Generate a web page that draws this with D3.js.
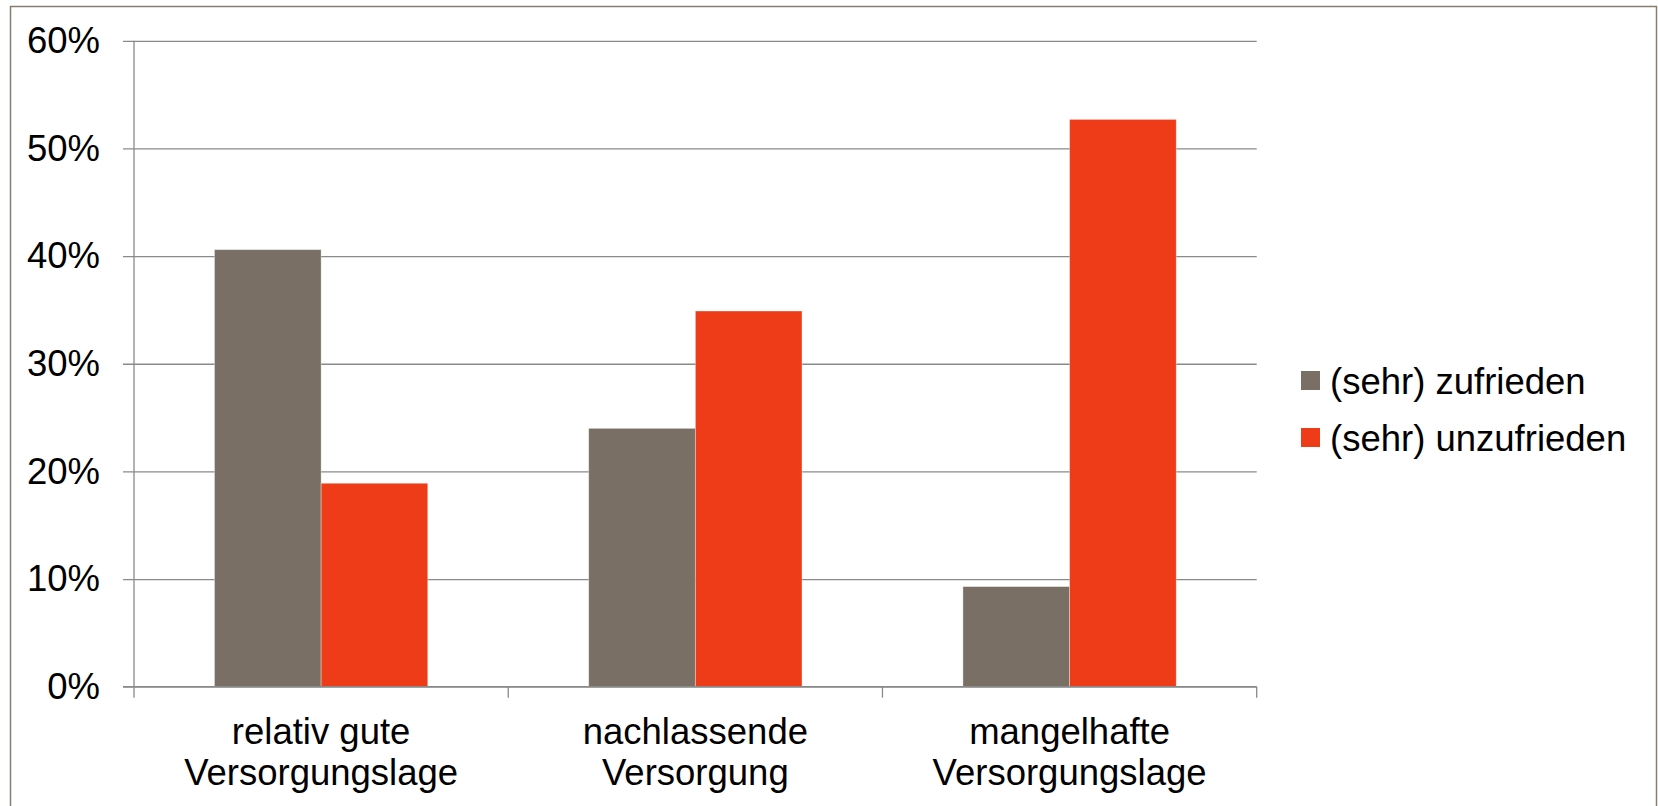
<!DOCTYPE html>
<html>
<head>
<meta charset="utf-8">
<script src="https://cdn.jsdelivr.net/npm/d3@7"></script>
<style>
  html, body { margin: 0; padding: 0; background: #fff; }
  svg { display: block; font-family: "Liberation Sans", Arial, sans-serif; }
</style>
</head>
<body>
<svg id="chart" width="1658" height="806"></svg>
<script>
// Survey shares per supply situation
const categories = [
  ["relativ gute", "Versorgungslage"],
  ["nachlassende", "Versorgung"],
  ["mangelhafte", "Versorgungslage"]
];
const seriesNames = ["(sehr) zufrieden", "(sehr) unzufrieden"];
const zufrieden = [40.6, 24.0, 9.3];
const unzufrieden = [18.9, 34.9, 52.7];
const yTicks = [0, 10, 20, 30, 40, 50, 60];
const colors = ["#796f64", "#ee3c18"];

const svg = d3.select("#chart");
const W = 1658, H = 806;
const plot = { left: 134, right: 1256.7, top: 40.8, bottom: 686.7 };
const fontSize = 36.5;
const gridColor = "#8a8a8a";

// frame around the chart area
svg.append("rect")
  .attr("x", 10.5).attr("y", 6.5)
  .attr("width", 1646).attr("height", 820)
  .attr("fill", "none").attr("stroke", "#867c72").attr("stroke-width", 1.5);

const catKeys = categories.map(c => c.join(" "));
const x0 = d3.scaleBand()
  .domain(catKeys)
  .range([plot.left, plot.right])
  .paddingInner(0.43)
  .paddingOuter(0.215);
const x1 = d3.scaleBand()
  .domain(seriesNames)
  .range([0, x0.bandwidth()]);
const y = d3.scaleLinear().domain([0, 60]).range([plot.bottom, plot.top]);

// horizontal gridlines with left tick marks and labels
const yAxis = d3.axisLeft(y)
  .tickValues(yTicks)
  .tickSize(plot.right - plot.left + 11)
  .tickPadding(23)
  .tickFormat(d => d + "%");
const gy = svg.append("g")
  .attr("transform", `translate(${plot.right},0)`)
  .call(yAxis);
gy.select(".domain").remove();
gy.selectAll(".tick line").attr("stroke", gridColor).attr("stroke-width", 1.3);
gy.selectAll(".tick text")
  .attr("fill", "#000")
  .attr("font-size", fontSize)
  .attr("font-family", "\"Liberation Sans\", Arial, sans-serif");

// vertical axis line
svg.append("line")
  .attr("x1", plot.left).attr("x2", plot.left)
  .attr("y1", plot.top).attr("y2", plot.bottom + 11)
  .attr("stroke", gridColor).attr("stroke-width", 1.3);

// category boundary ticks below the baseline
const step = x0.step();
const boundaries = d3.range(categories.length + 1).map(i => plot.left + i * step);
svg.append("g").selectAll("line")
  .data(boundaries.slice(1))
  .join("line")
  .attr("x1", d => d).attr("x2", d => d)
  .attr("y1", plot.bottom).attr("y2", plot.bottom + 11)
  .attr("stroke", gridColor).attr("stroke-width", 1.3);

// bars
const rows = catKeys.map((k, i) => ({ key: k, values: [zufrieden[i], unzufrieden[i]] }));
const groups = svg.append("g").selectAll("g")
  .data(rows)
  .join("g")
  .attr("transform", d => `translate(${x0(d.key)},0)`);
groups.selectAll("rect")
  .data(d => d.values.map((v, j) => ({ name: seriesNames[j], value: v, j })))
  .join("rect")
  .attr("x", d => x1(d.name))
  .attr("width", x1.bandwidth())
  .attr("y", d => y(d.value))
  .attr("height", d => y(0) - y(d.value))
  .attr("fill", d => colors[d.j])
  .attr("stroke", "rgba(255,255,255,0.45)")
  .attr("stroke-width", 0.8);

// redraw baseline above bars
svg.append("line")
  .attr("x1", plot.left - 11).attr("x2", plot.right)
  .attr("y1", plot.bottom).attr("y2", plot.bottom)
  .attr("stroke", gridColor).attr("stroke-width", 1.3);

// category labels (two lines)
const labels = svg.append("g").selectAll("text")
  .data(categories)
  .join("text")
  .attr("text-anchor", "middle")
  .attr("font-size", fontSize)
  .attr("fill", "#000")
  .attr("transform", (d, i) => `translate(${x0(catKeys[i]) + x0.bandwidth() / 2},0)`);
labels.selectAll("tspan")
  .data(d => d)
  .join("tspan")
  .attr("x", 0)
  .attr("y", (d, i) => 743.5 + i * 41.5)
  .text(d => d);

// legend
const legend = svg.append("g").attr("transform", "translate(1301,371)");
const items = legend.selectAll("g")
  .data(seriesNames)
  .join("g")
  .attr("transform", (d, i) => `translate(0,${i * 57})`);
items.append("rect")
  .attr("width", 19).attr("height", 19)
  .attr("fill", (d, i) => colors[i]);
items.append("text")
  .attr("x", 29).attr("y", 22.5)
  .attr("font-size", fontSize)
  .attr("fill", "#000")
  .text(d => d);
</script>
</body>
</html>
